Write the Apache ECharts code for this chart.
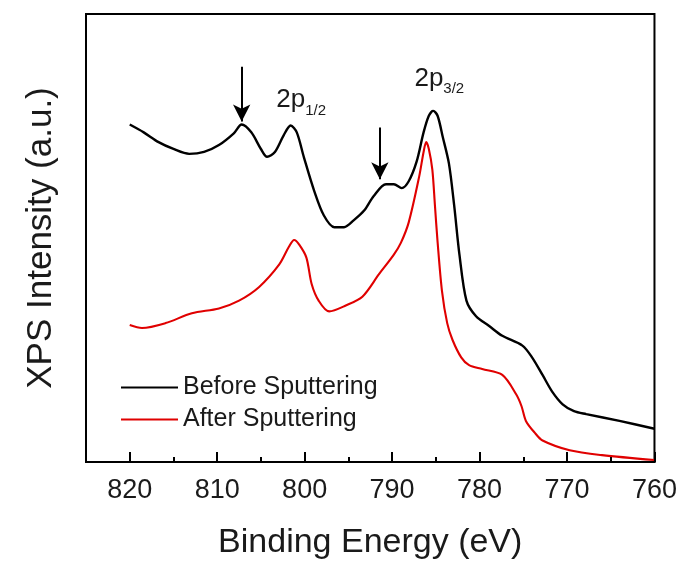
<!DOCTYPE html>
<html>
<head>
<meta charset="utf-8">
<script src="https://cdn.jsdelivr.net/npm/echarts@6/dist/echarts.min.js"></script>
<style>html,body{margin:0;padding:0;background:#fff;}#c{width:680px;height:565px;}</style>
</head>
<body>
<div id="c"></div>
<script>
// Binding energy (eV) and intensity (a.u.)
const beforeX = [820.0, 818.4, 816.7, 815.0, 813.2, 811.5, 809.8, 808.1, 807.2, 806.1, 805.0, 804.3, 803.4, 802.4, 801.6, 800.9, 800.1, 798.9, 797.8, 796.6, 795.5, 794.4, 793.2, 792.1, 790.7, 789.8, 788.9, 788.1, 787.2, 786.4, 785.8, 785.3, 784.8, 784.2, 783.5, 782.9, 782.3, 781.5, 780.4, 778.9, 777.4, 775.1, 774.0, 772.8, 771.7, 770.5, 769.2, 767.8, 764.0, 760.0];
const beforeY = [345, 337, 327, 320, 315, 317, 324, 336, 345, 337, 320, 312, 317, 334, 344, 337, 312, 277, 252, 240, 240, 247, 257, 272, 284, 284, 280, 287, 307, 337, 354, 359, 354, 332, 305, 262, 212, 165, 149, 139, 129, 119, 107, 89, 72, 59, 52, 49, 42, 34];
const afterX = [820.0, 818.6, 815.9, 812.9, 809.8, 807.5, 805.2, 802.9, 801.8, 801.2, 800.6, 799.8, 799.2, 798.4, 797.2, 795.3, 793.4, 791.5, 789.8, 789.0, 788.1, 786.9, 786.4, 786.1, 785.8, 785.4, 785.1, 784.8, 784.3, 783.7, 783.1, 782.1, 781.2, 779.7, 777.4, 775.8, 775.2, 774.7, 773.7, 772.8, 769.7, 766.0, 760.0];
const afterY = [140, 137, 142, 152, 157, 165, 179, 202, 220, 227, 222, 209, 182, 165, 154, 160, 169, 192, 212, 224, 245, 292, 317, 327, 320, 299, 262, 225, 175, 142, 125, 107, 99, 95, 89, 69, 57, 42, 30, 22, 12, 7, 2];
const tickLabels = ['760', '770', '780', '790', '800', '810', '820'];
const seriesNames = ['Before Sputtering', 'After Sputtering'];

const FONT = "'Liberation Sans', Arial, sans-serif";
const TXT = '#1a1a1a';

const zip = (xs, ys) => xs.map((x, i) => [x, ys[i]]);

const chart = echarts.init(document.getElementById('c'), null, {renderer: 'canvas'});
chart.setOption({
  animation: false,
  backgroundColor: '#fff',
  textStyle: {fontFamily: FONT},
  grid: {left: 86, right: 25, top: 14, bottom: 93, show: true, borderColor: '#000', borderWidth: 2, backgroundColor: 'transparent'},
  legend: {
    orient: 'vertical', left: 116, top: 370,
    icon: 'rect', itemWidth: 57, itemHeight: 2, itemGap: 7,
    data: seriesNames,
    textStyle: {fontSize: 25, color: TXT, fontFamily: FONT, lineHeight: 25}
  },
  xAxis: [{
    type: 'value', inverse: true, min: 760, max: 825, interval: 5,
    position: 'bottom', z: 10,
    name: 'Binding Energy (eV)', nameLocation: 'middle', nameGap: 64,
    nameTextStyle: {fontSize: 34, color: TXT, fontFamily: FONT},
    axisLine: {show: true, onZero: false, lineStyle: {color: '#000', width: 2}},
    axisTick: {show: true, inside: true, length: 5, lineStyle: {color: '#000', width: 2}},
    axisLabel: {show: false},
    splitLine: {show: false}
  }, {
    type: 'value', inverse: true, min: 760, max: 825, interval: 10,
    position: 'bottom', offset: 0, z: 11,
    axisLine: {show: false, onZero: false},
    axisTick: {show: true, inside: true, length: 10, lineStyle: {color: '#000', width: 2}},
    axisLabel: {fontSize: 27, color: TXT, margin: 15, showMaxLabel: false, fontFamily: FONT,
      formatter: v => tickLabels.includes(String(v)) ? String(v) : ''},
    splitLine: {show: false}
  }],
  yAxis: {
    type: 'value', min: 0, max: 458,
    name: 'XPS Intensity (a.u.)', nameLocation: 'middle', nameGap: 27, nameRotate: 90,
    nameTextStyle: {fontSize: 35, color: TXT, fontFamily: FONT},
    axisLine: {show: true, lineStyle: {color: '#000', width: 2}},
    axisTick: {show: false}, axisLabel: {show: false}, splitLine: {show: false}
  },
  series: [{
    name: seriesNames[0], type: 'line', xAxisIndex: 0, data: zip(beforeX, beforeY),
    smooth: 0.3, showSymbol: false, lineStyle: {color: '#000', width: 2.4}, itemStyle: {color: '#000'},
    markLine: {
      silent: true, symbol: ['none', 'arrow'], symbolSize: [13, 17],
      lineStyle: {color: '#000', width: 2, type: 'solid'}, label: {show: false},
      data: [
        [{coord: [807.2, 404]}, {coord: [807.2, 348]}],
        [{coord: [791.4, 342]}, {coord: [791.4, 289]}]
      ]
    },
    markPoint: {
      silent: true, symbol: 'circle', symbolSize: 0,
      label: {
        show: true, position: 'inside',
        rich: {
          a: {fontSize: 26, color: TXT, fontFamily: FONT, lineHeight: 26, verticalAlign: 'top'},
          b: {fontSize: 15, color: TXT, fontFamily: FONT, lineHeight: 16, padding: [16, 0, 0, 0], verticalAlign: 'top'}
        }
      },
      data: [
        {coord: [800.4, 370], label: {formatter: '{a|2p}{b|1/2}'}},
        {coord: [784.6, 392], label: {formatter: '{a|2p}{b|3/2}'}}
      ]
    }
  }, {
    name: seriesNames[1], type: 'line', xAxisIndex: 0, data: zip(afterX, afterY),
    smooth: 0.3, showSymbol: false, lineStyle: {color: '#e00000', width: 2.1}, itemStyle: {color: '#e00000'}
  }]
});
</script>
</body>
</html>
